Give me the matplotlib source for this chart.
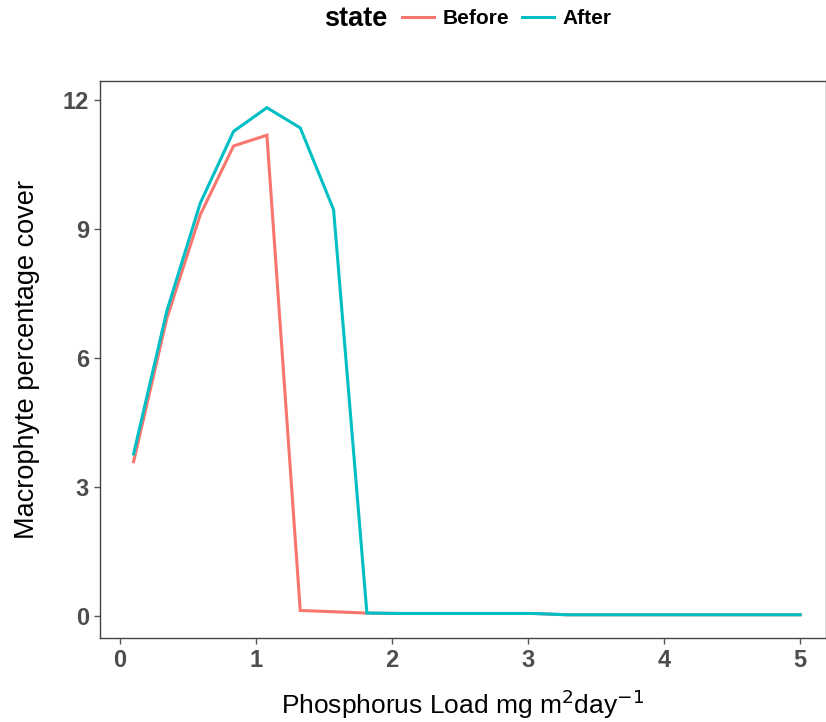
import matplotlib
matplotlib.use("Agg")
import matplotlib.pyplot as plt
import numpy as np

plt.rcParams['font.family'] = ['Liberation Sans', 'DejaVu Sans']

# phosphorus load (mg m^2 day^-1)
load = [0.1, 0.345, 0.59, 0.835, 1.08, 1.325, 1.57, 1.815, 2.06, 2.305, 2.55,
        2.795, 3.04, 3.285, 3.53, 3.775, 4.02, 4.265, 4.51, 4.755, 5.0]
before = [3.59, 6.93, 9.33, 10.93, 11.18, 0.13, 0.1, 0.07, 0.06, 0.06, 0.06,
          0.06, 0.06, 0.03, 0.03, 0.03, 0.03, 0.03, 0.03, 0.03, 0.03]
after = [3.77, 7.1, 9.6, 11.27, 11.82, 11.35, 9.45, 0.07, 0.06, 0.06, 0.06,
         0.06, 0.06, 0.03, 0.03, 0.03, 0.03, 0.03, 0.03, 0.03, 0.03]
states = ['Before', 'After']
colours = ['#F8766D', '#00BFC4']

fig = plt.figure(figsize=(8.26, 7.22), dpi=100)
ax = fig.add_axes([100/826, 1 - 638/722, 726/826, 557/722])

lines = []
for vals, name, col in zip([before, after], states, colours):
    ln, = ax.plot(load, vals, color=col, lw=2.2, label=name, solid_joinstyle='miter')
    lines.append(ln)

ax.set_xlim(-0.147, 5.19)
ax.set_ylim(-0.51, 12.44)
ax.set_xticks([0, 1, 2, 3, 4, 5])
ax.set_yticks([0, 3, 6, 9, 12])

for s in ax.spines.values():
    s.set_color('#444444')
    s.set_linewidth(1.0)
ax.tick_params(length=4, width=1, color='#555555', labelcolor='#4D4D4D',
               labelsize=17, pad=4)
for lab in ax.get_xticklabels() + ax.get_yticklabels():
    lab.set_fontweight('bold')

ax.set_xlabel(r'Phosphorus Load mg m$^{2}$day$^{-1}$', fontsize=19, labelpad=11)
ax.set_ylabel('Macrophyte percentage cover', fontsize=19.5, labelpad=16)

fig.text(356/826, 1 - 19/722, 'state', fontsize=19.5, fontweight='bold',
         ha='center', va='center')
leg = fig.legend(handles=lines, labels=states, loc='center left',
                 bbox_to_anchor=(402/826, 1 - 19/722), ncol=2, frameon=False,
                 prop={'weight': 'bold', 'size': 15}, handlelength=1.55,
                 handletextpad=0.4, columnspacing=0.62, borderaxespad=0,
                 borderpad=0)

fig.savefig('out.png', dpi=100)
